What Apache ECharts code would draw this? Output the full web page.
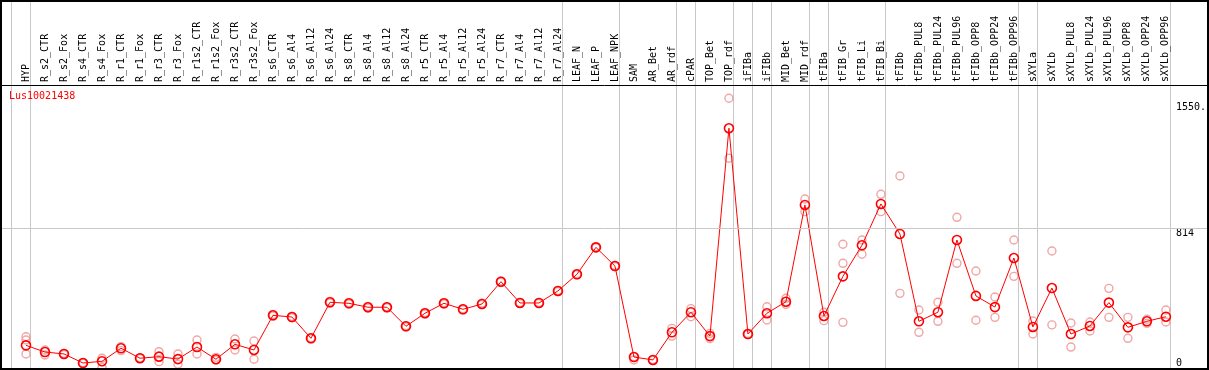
<!DOCTYPE html>
<html>
<head>
<meta charset="utf-8">
<script src="https://cdn.jsdelivr.net/npm/echarts@6/dist/echarts.min.js"></script>
<style>
html,body{margin:0;padding:0;background:#fff;}
#c{width:1209px;height:370px;}
</style>
</head>
<body>
<div id="c"></div>
<script>
const categories = ['HYP','R_s2_CTR','R_s2_Fox','R_s4_CTR','R_s4_Fox','R_r1_CTR','R_r1_Fox','R_r3_CTR','R_r3_Fox','R_r1s2_CTR','R_r1s2_Fox','R_r3s2_CTR','R_r3s2_Fox','R_s6_CTR','R_s6_Al4','R_s6_Al12','R_s6_Al24','R_s8_CTR','R_s8_Al4','R_s8_Al12','R_s8_Al24','R_r5_CTR','R_r5_Al4','R_r5_Al12','R_r5_Al24','R_r7_CTR','R_r7_Al4','R_r7_Al12','R_r7_Al24','LEAF_N','LEAF_P','LEAF_NPK','SAM','AR_Bet','AR_rdf','cPAR','TOP_Bet','TOP_rdf','iFIBa','iFIBb','MID_Bet','MID_rdf','tFIBa','tFIB_Gr','tFIB_Li','tFIB_Bi','tFIBb','tFIBb_PUL8','tFIBb_PUL24','tFIBb_PUL96','tFIBb_OPP8','tFIBb_OPP24','tFIBb_OPP96','sXYLa','sXYLb','sXYLb_PUL8','sXYLb_PUL24','sXYLb_PUL96','sXYLb_OPP8','sXYLb_OPP24','sXYLb_OPP96'];

const meanValues = [132,93,82,29,39,115,57,66,52,122,51,138,105,307,297,173,383,377,354,354,243,319,377,342,373,503,379,379,449,546,703,594,64,47,208,325,186,1397,198,319,386,950,303,534,715,956,781,272,325,746,420,355,641,239,466,198,245,381,237,272,299];

const repHigh = [182,105,85,31,57,124,59,95,82,163,62,169,157,312,301,176,388,381,358,357,246,323,381,345,377,507,382,382,452,549,706,597,66,49,231,346,202,1572,201,357,406,985,325,721,746,1012,1119,338,383,878,565,414,746,274,682,262,268,464,295,284,338];
const repLow = [82,76,79,27,4,101,55,37,22,82,47,105,51,302,293,170,378,373,350,351,240,315,373,339,369,499,376,376,446,543,700,591,47,45,186,299,171,1222,195,280,371,911,276,266,663,911,435,208,272,610,278,295,534,198,251,122,216,295,173,260,268];
const repMid = {0:163, 43:610};

// index of first category to the right of each grey vertical divider
const groupBreaks = [0,1,29,32,35,36,38,39,40,42,43,46,53,54,61];

const yTickValues = [0, 814, 1550];
const yTickLabels = ['0', '814', '1550.'];
const geneName = 'Lus10021438';

const MONO = '"DejaVu Sans Mono", "Liberation Mono", monospace';
const chart = echarts.init(document.getElementById('c'), null, {renderer:'canvas'});

const repPoints = [];
categories.forEach((c,i)=>{
  repPoints.push([i, repHigh[i]]);
  repPoints.push([i, repLow[i]]);
  if (repMid[i] !== undefined) repPoints.push([i, repMid[i]]);
});

const yLabelStyle = {fontSize:10, fontFamily:MONO, color:'#000', align:'left', margin:5};

chart.setOption({
  animation:false,
  backgroundColor:'#fff',
  title:{text:geneName, left:9, top:91, padding:0,
    textStyle:{color:'#ff0000', fontSize:10, fontWeight:'normal', fontFamily:MONO}},
  grid:{left:1, right:1, top:85, bottom:2},
  xAxis:{type:'value', position:'top', min:-25/19, max:1182/19,
    axisLine:{show:false}, axisTick:{show:false}, splitLine:{show:false},
    axisLabel:{customValues:categories.map((_,i)=>i), formatter:v=>categories[Math.round(v)],
      rotate:90, margin:3, fontSize:10, fontFamily:MONO, color:'#000'}},
  yAxis:[
    {type:'value', min:0, max:1649, position:'right', offset:-37,
      axisLine:{show:false}, axisTick:{show:false}, splitLine:{show:false},
      axisLabel:Object.assign({customValues:yTickValues.slice(1), verticalAlign:'top',
        formatter:v=>yTickLabels[yTickValues.indexOf(v)]}, yLabelStyle)},
    {type:'value', min:0, max:1649, position:'right', offset:-37,
      axisLine:{show:false}, axisTick:{show:false}, splitLine:{show:false},
      axisLabel:Object.assign({customValues:yTickValues.slice(0,1), verticalAlign:'bottom',
        formatter:v=>yTickLabels[yTickValues.indexOf(v)]}, yLabelStyle)}
  ],
  series:[
    {type:'scatter', z:2, data:repPoints, symbol:'circle', symbolSize:8,
      itemStyle:{color:'rgba(0,0,0,0)', borderColor:'#ec9090', borderWidth:1.4}},
    {type:'line', z:3, data:meanValues.map((v,i)=>[i,v]), symbol:'circle', symbolSize:9,
      lineStyle:{color:'#ff0000', width:1},
      itemStyle:{color:'rgba(255,0,0,0)', borderColor:'#ff0000', borderWidth:1.6},
      markLine:{silent:true, symbol:'none', label:{show:false},
        lineStyle:{color:'#c8c8c8', width:1, type:'solid'},
        data:[{yAxis:yTickValues[1]}]}}
  ]
});

const elements = groupBreaks.map(k=>{
  const x = Math.round(chart.convertToPixel({xAxisIndex:0}, k - 15/19)) + 0.5;
  return {type:'line', silent:true, z:0, shape:{x1:x, y1:0, x2:x, y2:368},
    style:{stroke:'#c8c8c8', lineWidth:1}};
});
elements.push({type:'line', silent:true, z:5, shape:{x1:0, y1:85.5, x2:1209, y2:85.5},
  style:{stroke:'#000', lineWidth:1}});
elements.push({type:'rect', silent:true, z:5, shape:{x:1, y:1, width:1207, height:368},
  style:{fill:null, stroke:'#000', lineWidth:2}});
chart.setOption({graphic:{elements:elements}});
</script>
</body>
</html>
